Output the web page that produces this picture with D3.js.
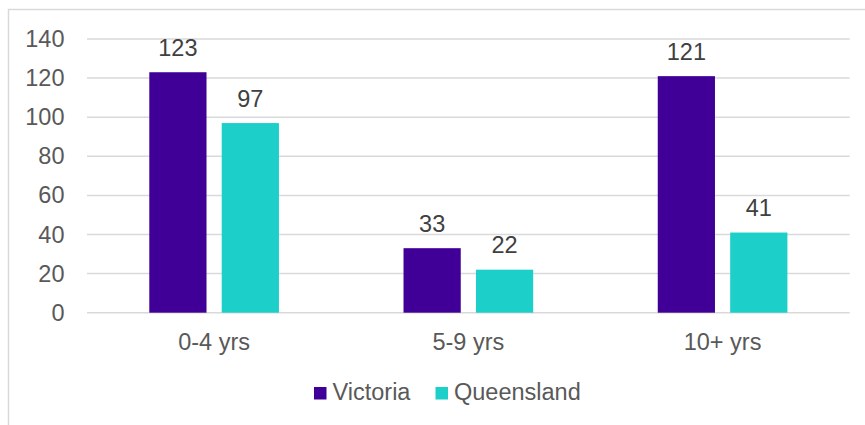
<!DOCTYPE html>
<html>
<head>
<meta charset="utf-8">
<script src="https://cdn.jsdelivr.net/npm/d3@7"></script>
<style>
  body { margin: 0; background: #fff; }
  text { font-family: "Liberation Sans", Arial, sans-serif; }
</style>
</head>
<body>
<script>
var categories = ['0-4 yrs', '5-9 yrs', '10+ yrs'];
var seriesNames = ['Victoria', 'Queensland'];
var victoria = [123, 33, 121];
var queensland = [97, 22, 41];
var yTicks = [0, 20, 40, 60, 80, 100, 120, 140];
var colors = ['#400098', '#1dcfc9'];

var width = 865, height = 425;
var plotLeft = 87, plotRight = 849.7, plotTop = 39, plotBottom = 312.7;
var fontSize = '23.5px';

var svg = d3.select('body').append('svg')
    .attr('width', width)
    .attr('height', height);

// outer chart border
svg.append('rect')
    .attr('x', 8.5).attr('y', 9.5)
    .attr('width', 880).attr('height', 440)
    .attr('fill', 'none')
    .attr('stroke', '#d9d9d9')
    .attr('stroke-width', 1.5);

var x0 = d3.scaleBand().domain(categories).range([plotLeft, plotRight]);
var x1 = d3.scaleBand().domain(seriesNames).range([0, x0.bandwidth()])
    .paddingInner(0.21).paddingOuter(0.86);
var y = d3.scaleLinear().domain([0, 140]).range([plotBottom, plotTop]);

// gridlines
svg.append('g').selectAll('line')
    .data(yTicks)
    .enter().append('line')
    .attr('x1', plotLeft).attr('x2', plotRight)
    .attr('y1', function (d) { return y(d); })
    .attr('y2', function (d) { return y(d); })
    .attr('stroke', '#d9d9d9')
    .attr('stroke-width', 1.5);

// y axis labels
var yAxis = d3.axisLeft(y).tickValues(yTicks).tickSize(0).tickPadding(0);
var yg = svg.append('g')
    .attr('transform', 'translate(64.5,0)')
    .call(yAxis);
yg.select('.domain').remove();
yg.selectAll('text')
    .attr('fill', '#595959')
    .style('font-size', fontSize);

// x axis labels
var xAxis = d3.axisBottom(x0).tickSize(0).tickPadding(0);
var xg = svg.append('g')
    .attr('transform', 'translate(0,' + 333.5 + ')')
    .call(xAxis);
xg.select('.domain').remove();
xg.selectAll('text')
    .attr('dy', '0.71em')
    .attr('y', 0)
    .attr('fill', '#595959')
    .style('font-size', fontSize);

var rows = categories.map(function (c, i) {
    return { cat: c, values: [victoria[i], queensland[i]] };
});

var groups = svg.append('g').selectAll('g')
    .data(rows)
    .enter().append('g')
    .attr('transform', function (d) { return 'translate(' + x0(d.cat) + ',0)'; });

groups.selectAll('rect')
    .data(function (d) {
        return d.values.map(function (v, j) { return { name: seriesNames[j], value: v, i: j }; });
    })
    .enter().append('rect')
    .attr('x', function (d) { return x1(d.name); })
    .attr('width', x1.bandwidth())
    .attr('y', function (d) { return y(d.value); })
    .attr('height', function (d) { return plotBottom - y(d.value); })
    .attr('fill', function (d) { return colors[d.i]; });

groups.selectAll('text.val')
    .data(function (d) {
        return d.values.map(function (v, j) { return { name: seriesNames[j], value: v }; });
    })
    .enter().append('text')
    .attr('class', 'val')
    .attr('x', function (d) { return x1(d.name) + x1.bandwidth() / 2; })
    .attr('y', function (d) { return y(d.value) - 16.5; })
    .attr('text-anchor', 'middle')
    .attr('fill', '#404040')
    .style('font-size', fontSize)
    .text(function (d) { return d.value; });

// legend
var legendX = [314, 435.5];
var legend = svg.append('g').selectAll('g')
    .data(seriesNames)
    .enter().append('g')
    .attr('transform', function (d, i) { return 'translate(' + legendX[i] + ',387)'; });
legend.append('rect')
    .attr('width', 12.5).attr('height', 12.5)
    .attr('fill', function (d, i) { return colors[i]; });
legend.append('text')
    .attr('x', 18.5).attr('y', 13.3)
    .attr('fill', '#595959')
    .style('font-size', fontSize)
    .text(function (d) { return d; });
</script>
</body>
</html>
